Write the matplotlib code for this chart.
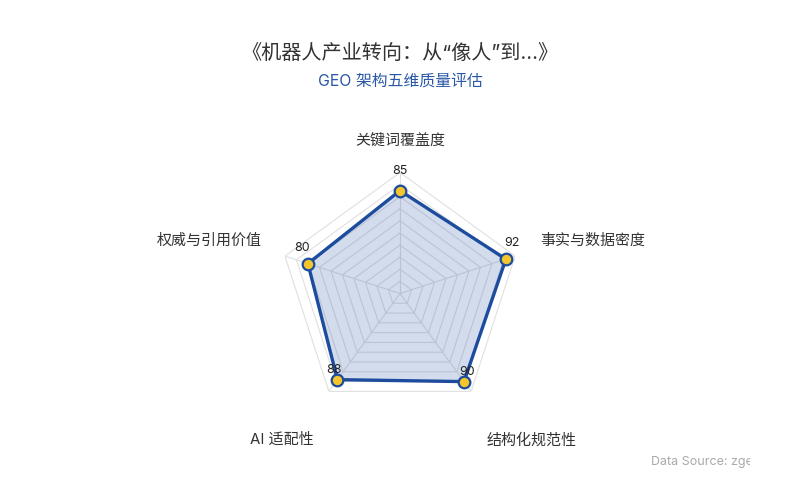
import numpy as np
import matplotlib
matplotlib.use("Agg")
import matplotlib.pyplot as plt
from matplotlib.transforms import Bbox

plt.rcParams['font.family'] = ['Inter', 'Noto Sans CJK SC', 'DejaVu Sans']

title = "《机器人产业转向：从“像人”到...》"
subtitle = "GEO 架构五维质量评估"
categories = ["关键词覆盖度", "事实与数据密度", "结构化规范性", "AI 适配性", "权威与引用价值"]
values = [85, 92, 90, 88, 80]
max_value = 100
rings = [10, 20, 30, 40, 50, 60, 70, 80, 90, 100]
source = "Data Source: zgeo"

W, H = 800, 500
fig = plt.figure(figsize=(W / 100, H / 100), dpi=100)
fig.patch.set_facecolor('white')

cx, cy, R = 400, 293.5, 121
ax = fig.add_axes([(cx - R) / W, (H - cy - R) / H, 2 * R / W, 2 * R / H], projection='polar')
ax.set_theta_offset(np.pi / 2)
ax.set_theta_direction(-1)
ax.set_ylim(0, max_value)
ax.set_xticks([])
ax.set_yticks([])
ax.grid(False)
ax.spines['polar'].set_visible(False)
ax.patch.set_alpha(0)

n = len(categories)
theta = np.linspace(0, 2 * np.pi, n, endpoint=False)
theta_c = np.append(theta, theta[0])

# grid rings and spokes
for r in rings:
    ax.plot(theta_c, [r] * (n + 1), color='#e0e0e0', lw=0.8, zorder=1)
for t in theta:
    ax.plot([t, t], [0, max_value], color='#e0e0e0', lw=0.8, zorder=1)

vals_c = values + [values[0]]
ax.fill(theta_c, vals_c, color='#2352a3', alpha=0.2, zorder=2, lw=0)
ax.plot(theta_c, vals_c, color='#1d4c9e', lw=2.4, zorder=3)
ax.scatter(theta, values, s=70, facecolor='#f4c62b', edgecolor='#1d4c9e', linewidth=1.6, zorder=4, clip_on=False)

# value labels: above the point, nudged outward along the axis
for t, v in zip(theta, values):
    ang = np.pi / 2 - t
    dx = 6 * np.cos(ang)
    dy = 14 + 6 * np.sin(ang)
    ax.annotate(str(v), (t, v), xytext=(dx, dy), textcoords='offset pixels',
                ha='center', va='center', fontsize=9, color='#222222',
                annotation_clip=False, zorder=5)

# axis name labels
offsets = [(0, 32), (25, 15), (60, -49), (-47, -48), (-23, 15)]
aligns = ['center', 'left', 'center', 'center', 'right']
for t, name, off, ha in zip(theta, categories, offsets, aligns):
    ax.annotate(name, (t, max_value), xytext=off, textcoords='offset pixels',
                ha=ha, va='center', fontsize=10.8, color='#333333',
                annotation_clip=False)

fig.text(0.5, 1 - 53 / H, title, ha='center', va='center', fontsize=14.5, color='#333333')
fig.text(0.5, 1 - 81 / H, subtitle, ha='center', va='center', fontsize=11.4, color='#2a58a6')

st = fig.text(651 / W, 1 - 462 / H, source, ha='left', va='center', fontsize=9.0, color='#aaaaaa')
st.set_clip_box(Bbox([[0, 0], [750, H]]))
st.set_clip_on(True)

fig.savefig('out.png', dpi=100, facecolor='white')
